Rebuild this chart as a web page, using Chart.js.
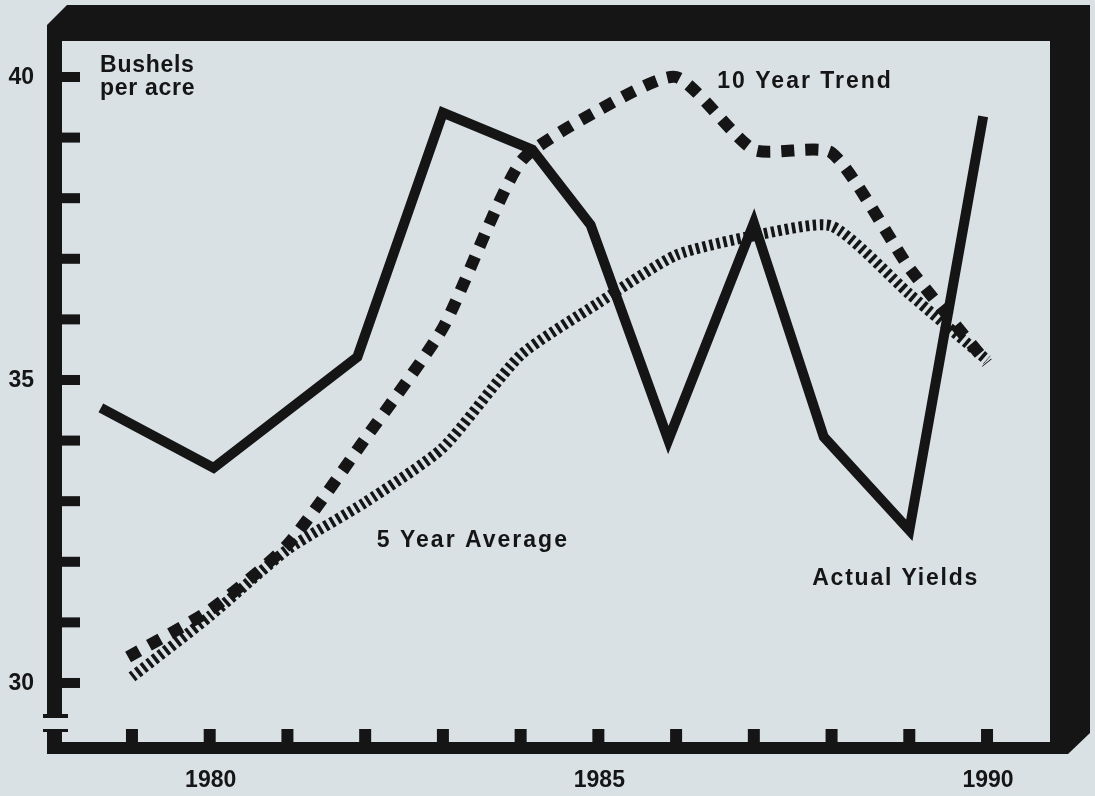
<!DOCTYPE html>
<html>
<head>
<meta charset="utf-8">
<title>Bushels per acre</title>
<script src="https://cdn.jsdelivr.net/npm/chart.js@4/dist/chart.umd.min.js"></script>
<style>
  html, body { margin: 0; padding: 0; background: #d9e1e5; }
  #wrap { width: 1095px; height: 796px; }
</style>
</head>
<body>
<div id="wrap"><canvas id="c" width="1095" height="796"></canvas></div>
<script>
// Actual yields (bushels per acre) at the vertices of the solid line
const actualYears  = [1978.6, 1980.05, 1981.9, 1983.0, 1984.15, 1984.9, 1985.9, 1987.0, 1987.9, 1989.0, 1989.95];
const actualYields = [34.54, 33.55, 35.38, 39.41, 38.8, 37.56, 34.01, 37.59, 34.06, 32.52, 39.35];

// 10 year trend
const trendYears  = [1978.95, 1980, 1981, 1982, 1983, 1984, 1985, 1986, 1987, 1988, 1989, 1990];
const trendValues = [30.43, 31.2, 32.28, 34.03, 35.86, 38.6, 39.45, 40.0, 38.8, 38.75, 36.85, 35.28];

// 5 year average
const avgYears  = [1979, 1980, 1981, 1982, 1983, 1984, 1985, 1986, 1987, 1988, 1989, 1990];
const avgValues = [30.1, 31.1, 32.2, 32.98, 33.88, 35.41, 36.27, 37.06, 37.38, 37.54, 36.42, 35.33];

// Axis ticks and labels
const yearTicks  = [1979, 1980, 1981, 1982, 1983, 1984, 1985, 1986, 1987, 1988, 1989, 1990];
const yearLabels = [1980, 1985, 1990];
const yieldTicks  = [30, 31, 32, 33, 34, 35, 36, 37, 38, 39, 40];
const yieldLabels = [30, 35, 40];

// Series captions, anchored in data units (left edge, baseline)
const captions = [
  { text: "10 Year Trend",  x: 1986.53, y: 39.82, spacing: 2 },
  { text: "5 Year Average", x: 1982.15, y: 32.24, spacing: 2 },
  { text: "Actual Yields",  x: 1987.75, y: 31.62, spacing: 1.8 },
  { text: "Bushels",        x: 1978.59, y: 40.08, spacing: 0.7 },
  { text: "per acre",       x: 1978.59, y: 39.70, spacing: 0.7 }
];

const INK = "#151515";
const PAPER = "#d9e1e5";
const FONT = '"Liberation Sans", Arial, Helvetica, sans-serif';

const toPoints = (xs, ys) => xs.map((x, i) => ({ x: x, y: ys[i] }));

const framePlugin = {
  id: "frame",
  beforeDraw(chart) {
    const ctx = chart.ctx;
    ctx.save();
    ctx.fillStyle = PAPER;
    ctx.fillRect(0, 0, chart.width, chart.height);
    ctx.restore();
  },
  afterDatasetsDraw(chart) {
    const ctx = chart.ctx;
    const ca = chart.chartArea;
    const xs = chart.scales.x, ys = chart.scales.y;
    const L = ca.left, T = ca.top, R = ca.right, B = ca.bottom;
    ctx.save();
    ctx.fillStyle = INK;

    // heavy bevelled frame
    ctx.beginPath();
    ctx.moveTo(L - 15, T - 16);
    ctx.lineTo(L + 5, T - 36);
    ctx.lineTo(R + 40, T - 36);
    ctx.lineTo(R + 40, B - 9);
    ctx.lineTo(R + 18, B + 12);
    ctx.lineTo(L - 15, B + 12);
    ctx.closePath();
    ctx.moveTo(L, T);
    ctx.lineTo(L, B);
    ctx.lineTo(R, B);
    ctx.lineTo(R, T);
    ctx.closePath();
    ctx.fill("evenodd");

    // axis break on the value axis
    ctx.fillStyle = PAPER;
    ctx.fillRect(L - 17, B - 24, 18, 11);
    ctx.fillStyle = INK;
    ctx.fillRect(L - 19, B - 28, 25, 4);
    ctx.fillRect(L - 19, B - 13, 25, 3);

    // value ticks
    yieldTicks.forEach(v => {
      const y = ys.getPixelForValue(v);
      ctx.fillRect(L, y - 5, 18, 10);
    });
    // year ticks
    yearTicks.forEach(v => {
      const x = xs.getPixelForValue(v);
      ctx.fillRect(x - 6, B - 13, 12, 13);
    });

    // tick labels
    ctx.font = "bold 23px " + FONT;
    ctx.textAlign = "right";
    ctx.textBaseline = "middle";
    yieldLabels.forEach(v => {
      ctx.fillText(String(v), 34, ys.getPixelForValue(v) + 1);
    });
    ctx.textAlign = "center";
    ctx.textBaseline = "alphabetic";
    yearLabels.forEach(v => {
      ctx.fillText(String(v), xs.getPixelForValue(v) + 1, B + 45);
    });

    // captions
    ctx.textAlign = "left";
    captions.forEach(c => {
      if ("letterSpacing" in ctx) ctx.letterSpacing = c.spacing + "px";
      ctx.fillText(c.text, xs.getPixelForValue(c.x), ys.getPixelForValue(c.y));
    });
    if ("letterSpacing" in ctx) ctx.letterSpacing = "0px";
    ctx.restore();
  }
};

new Chart(document.getElementById("c"), {
  type: "line",
  data: {
    datasets: [
      {
        label: "5 Year Average",
        data: toPoints(avgYears, avgValues),
        borderColor: INK,
        borderWidth: 11,
        borderDash: [3.5, 3.5],
        borderCapStyle: "butt",
        borderJoinStyle: "miter",
        tension: 0.2,
        pointRadius: 0,
        fill: false,
        order: 3
      },
      {
        label: "10 Year Trend",
        data: toPoints(trendYears, trendValues),
        borderColor: INK,
        borderWidth: 12,
        borderDash: [13, 11],
        borderCapStyle: "butt",
        borderJoinStyle: "miter",
        tension: 0.2,
        pointRadius: 0,
        fill: false,
        order: 2
      },
      {
        label: "Actual Yields",
        data: toPoints(actualYears, actualYields),
        borderColor: INK,
        borderWidth: 10,
        borderCapStyle: "butt",
        borderJoinStyle: "miter",
        tension: 0,
        pointRadius: 0,
        fill: false,
        order: 1
      }
    ]
  },
  options: {
    responsive: false,
    devicePixelRatio: 1,
    animation: false,
    events: [],
    layout: { padding: { left: 62, right: 45, top: 41, bottom: 54 } },
    plugins: { legend: { display: false }, tooltip: { enabled: false } },
    scales: {
      x: { type: "linear", min: 1978.1, max: 1990.81, display: false },
      y: { type: "linear", min: 29.026, max: 40.594, display: false }
    }
  },
  plugins: [framePlugin]
});
</script>
</body>
</html>
